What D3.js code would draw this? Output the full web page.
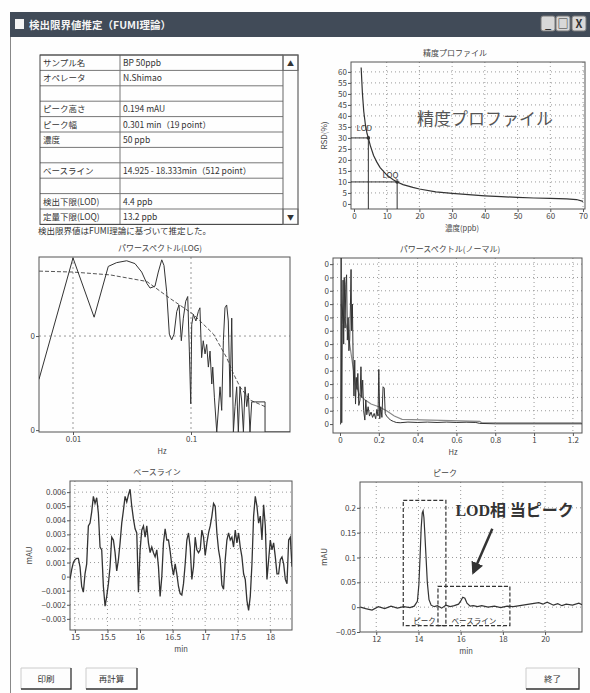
<!DOCTYPE html>
<html>
<head>
<meta charset="utf-8">
<script src="https://d3js.org/d3.v7.min.js"></script>
<style>
body { margin: 0; background: #fff; }
</style>
</head>
<body>
<div id="visu"></div>
<script>

// ---- tableau de résultats ----
var tableLabels = ["サンプル名", "オペレータ", "", "ピーク高さ", "ピーク幅", "濃度", "", "ベースライン", "", "検出下限(LOD)", "定量下限(LOQ)"];
var tableValues = ["BP 50ppb", "N.Shimao", "", "0.194 mAU", "0.301 min（19 point）", "50 ppb", "", "14.925 - 18.333min（512 point）", "", "4.4 ppb", "13.2 ppb"];

// ---- profil de précision (RSD vs concentration) ----
var precConc = [2.2, 2.6, 3, 3.5, 4, 4.4, 5, 6, 7, 8, 10, 12, 13.2, 15, 18, 20, 25, 30, 35, 40, 45, 50, 55, 60, 65, 68, 70];
var precRsd  = [62, 50, 42, 36, 32, 30, 26.5, 22, 19, 16.5, 13.2, 11, 10, 8.8, 7.5, 6.8, 5.5, 4.8, 4.2, 3.7, 3.3, 3.0, 2.7, 2.5, 2.3, 2.0, 1.2];
var precTicksX = [0, 10, 20, 30, 40, 50, 60, 70];
var precTicksY = [0, 5, 10, 15, 20, 25, 30, 35, 40, 45, 50, 55, 60];
var lodConc = 4.4, lodRsd = 30;
var loqConc = 13.2, loqRsd = 10;

// ---- spectre de puissance (LOG) : fréquence, log10 de la puissance ----
var psLogFreq = [0.00515, 0.0100, 0.0151, 0.0199, 0.0234, 0.0285, 0.0335, 0.0382, 0.0422, 0.045, 0.0495, 0.0528, 0.0565, 0.059, 0.0622, 0.0655, 0.0686, 0.0718, 0.0757, 0.0791, 0.0828, 0.0861, 0.0902, 0.0938, 0.0968, 0.0995, 0.1014, 0.1047, 0.110, 0.1153, 0.119, 0.123, 0.127, 0.1315, 0.1358, 0.1403, 0.1449, 0.150, 0.1528, 0.1578, 0.1652, 0.1762, 0.182, 0.188, 0.194, 0.2005, 0.207, 0.2143, 0.2213, 0.2286, 0.236, 0.2438, 0.2518, 0.260, 0.2685, 0.278, 0.287, 0.2965, 0.306, 0.316, 0.327, 0.424, 0.424, 0.69];
var psLogLevel = [-8.46, -7.17, -7.80, -7.26, -7.22, -7.20, -7.23, -7.32, -7.44, -7.49, -7.47, -7.32, -7.19, -7.25, -7.53, -7.98, -8.04, -7.98, -7.74, -7.67, -8.05, -7.81, -7.63, -7.58, -8.16, -8.72, -7.88, -7.77, -7.84, -7.74, -7.70, -8.23, -8.05, -8.19, -8.09, -8.33, -8.16, -8.51, -8.33, -8.65, -9.5, -8.54, -8.79, -8.05, -7.70, -7.67, -7.84, -8.65, -7.81, -9.5, -8.75, -8.54, -9.5, -8.54, -8.68, -9.5, -8.54, -8.75, -8.61, -9.5, -8.70, -8.70, -9.5, -9.5];
var psFitFreq  = [0.00515, 0.01, 0.0206, 0.0422, 0.0664, 0.1047, 0.155, 0.2005, 0.2286, 0.26, 0.316, 0.424];
var psFitLevel = [-7.31, -7.32, -7.35, -7.42, -7.60, -7.77, -7.98, -8.23, -8.40, -8.54, -8.68, -8.75];
var psLogTicksX = [0.01, 0.1];
var psLogTicksY = [1e-9, 1e-8];

// ---- spectre de puissance (normal) : unités 1e-9 ----
var psNormFreq  = [0, 0.0035, 0.006, 0.009, 0.012, 0.016, 0.019, 0.022, 0.026, 0.03, 0.034, 0.038, 0.042, 0.046, 0.05, 0.054, 0.057, 0.06, 0.064, 0.068, 0.072, 0.076, 0.08, 0.084, 0.088, 0.092, 0.097, 0.103, 0.108, 0.112, 0.117, 0.122, 0.128, 0.133, 0.138, 0.145, 0.152, 0.16, 0.168, 0.176, 0.184, 0.19, 0.196, 0.2, 0.205, 0.21, 0.216, 0.222, 0.228, 0.233, 0.24, 0.25, 0.26, 0.275, 0.29, 0.31, 0.35, 0.4, 0.45, 0.5, 0.55, 0.6, 0.65, 0.7, 0.72, 0.8, 1.0, 1.25];
var psNormPower = [0, 0, 12.5, 0.1, 7.5, 10.8, 6.0, 11.0, 7.2, 10.5, 11.2, 6.3, 8.0, 5.5, 6.3, 9.0, 11.6, 7.0, 9.0, 4.5, 2.1, 4.8, 1.5, 3.5, 2.6, 3.8, 1.4, 1.8, 4.3, 2.0, 3.3, 1.0, 0.3, 1.8, 0.7, 1.3, 0.6, 0.9, 0.5, 0.8, 0.4, 1.1, 0.6, 4.1, 0.4, 1.3, 0.5, 2.8, 2.7, 0.8, 0.6, 0.45, 0.3, 0.2, 0.12, 0.1, 0.15, 0.12, 0.15, 0.12, 0.15, 0.12, 0.14, 0.12, 0.05, 0.02, 0.02, 0.02];
var psSmoothFreq  = [0.005, 0.02, 0.04, 0.06, 0.08, 0.1, 0.13, 0.16, 0.2, 0.24, 0.28, 0.32, 0.72, 0.73, 1.25];
var psSmoothPower = [9, 8, 7, 5, 3, 2.2, 1.8, 1.5, 1.3, 1.0, 0.6, 0.35, 0.2, 0.1, 0.1];
var psNormTicksX = [0, 0.2, 0.4, 0.6, 0.8, 1, 1.2];
var psNormTicksY = [0, 1, 2, 3, 4, 5, 6, 7, 8, 9, 10, 11, 12];

// ---- ligne de base (mAU), 14.925 - 18.333 min ----
var baselineStart = 14.925, baselineEnd = 18.333;
var baselineValues = [-0.0002, 0.0005, 0.0010, 0.0012, 0.0013, 0.0013, 0.0007, -0.0007, -0.0011, 0.0002,
  0.0009, 0.0036, 0.0038, 0.0046, 0.0057, 0.0052, 0.0056, 0.0045, 0.0021, 0.0019,
  -0.0007, -0.0021, -0.0014, -0.0005, 0.0007, 0.0028, 0.0026, 0.0017, 0.0004, 0.0012,
  0.0024, 0.0038, 0.0047, 0.0057, 0.0053, 0.0058, 0.0062, 0.0050, 0.0041, 0.0034,
  0.0031, -0.0011, 0.0019, 0.0033, 0.0036, 0.0028, 0.0036, 0.0024, 0.0017, 0.0021,
  0.0017, 0.0014, 0.0019, 0.0007, -0.0014, 0.0000, 0.0024, 0.0034, 0.0026, 0.0026,
  0.0018, 0.0008, 0.0001, 0.0009, 0.0002, -0.0007, -0.0012, -0.0013, -0.0005, 0.0009,
  0.0026, 0.0031, 0.0021, -0.0002, 0.0007, 0.0028, 0.0019, 0.0017, 0.0019, 0.0033,
  0.0028, 0.0015, 0.0024, 0.0031, 0.0036, 0.0043, 0.0052, 0.0050, 0.0031, 0.0019,
  0.0012, -0.0006, -0.0009, 0.0012, 0.0026, 0.0031, 0.0026, 0.0028, 0.0021, 0.0033,
  0.0024, 0.0031, 0.0021, 0.0014, 0.0002, -0.0002, -0.0017, -0.0024, -0.0014, 0.0009,
  0.0043, 0.0057, 0.0050, 0.0038, 0.0043, 0.0026, 0.0051, 0.0036, -0.0002, 0.0012,
  0.0026, 0.0019, 0.0024, 0.0014, 0.0002, 0.0002, 0.0012, 0.0014, 0.0009, -0.0002,
  -0.0005, 0.0026, 0.0028, 0.0007];
var baselineTicksX = [15, 15.5, 16, 16.5, 17, 17.5, 18];
var baselineTicksY = [-0.003, -0.002, -0.001, 0, 0.001, 0.002, 0.003, 0.004, 0.005, 0.006];

// ---- chromatogramme (pic) ----
var peakTime  = [11.25, 11.5, 11.8, 12.1, 12.4, 12.7, 13.0, 13.3, 13.6, 13.8, 13.95, 14.02, 14.08, 14.13, 14.18, 14.22, 14.26, 14.3, 14.36, 14.42, 14.5, 14.6, 14.75, 14.9, 15.1, 15.3, 15.5, 15.7, 15.9, 16.0, 16.1, 16.2, 16.3, 16.45, 16.6, 16.8, 17.0, 17.3, 17.6, 17.9, 18.2, 18.5, 18.8, 19.1, 19.4, 19.7, 19.9, 20.1, 20.4, 20.6, 20.8, 21.0, 21.3, 21.6, 21.75];
var peakValue = [0.000, -0.003, -0.006, 0.001, -0.003, 0.002, -0.002, 0.001, -0.001, 0.002, 0.012, 0.045, 0.105, 0.16, 0.19, 0.194, 0.18, 0.15, 0.1, 0.05, 0.015, 0.004, 0.001, 0.003, -0.002, 0.004, 0.001, 0.003, 0.006, 0.012, 0.02, 0.018, 0.008, 0.002, 0.003, 0.001, 0.003, 0.0, 0.002, -0.001, 0.002, 0.001, 0.003, 0.005, 0.007, 0.009, 0.006, 0.01, 0.004, 0.007, 0.003, 0.006, 0.004, 0.008, 0.005];
var peakTicksX = [12, 14, 16, 18, 20];
var peakTicksY = [-0.05, 0, 0.05, 0.1, 0.15, 0.2];
var peakBox = [13.28, 15.3, -0.037, 0.215];
var baselineBox = [14.925, 18.333, -0.037, 0.042];
var arrowFrom = [17.5, 0.158], arrowTo = [16.6, 0.07];

// ---- mise en page ----
var largeur = 590, hauteur = 693;
var police = "'Noto Sans CJK JP', 'DejaVu Sans', sans-serif";

var svg = d3.select("#visu").append("svg")
  .attr("width", largeur)
  .attr("height", hauteur)
  .style("font-family", police);

svg.append("rect").attr("width", largeur).attr("height", hauteur).attr("fill", "#fefefe");

// barre de titre
svg.append("rect").attr("x", 10).attr("y", 12).attr("width", 580).attr("height", 25).attr("fill", "#414b58");
svg.append("rect").attr("x", 15).attr("y", 19).attr("width", 9).attr("height", 10).attr("fill", "#f4f4f4");
svg.append("text").attr("x", 29).attr("y", 29).attr("fill", "#f4f4f4")
  .attr("font-size", 10.5).attr("font-weight", "bold").text("検出限界値推定（FUMI理論）");
[541, 556, 572].forEach(function(bx, i) {
  svg.append("rect").attr("x", bx).attr("y", 16).attr("width", 14).attr("height", 15)
    .attr("fill", "#d8d8d8").attr("stroke", "#777").attr("rx", 2);
  var sym = ["_", "□", "X"][i];
  svg.append("text").attr("x", bx + 7).attr("y", 28).attr("text-anchor", "middle")
    .attr("font-size", 11).attr("font-weight", "bold").attr("fill", "#333").text(sym);
});
// bord gauche de la fenêtre
svg.append("line").attr("x1", 10.5).attr("x2", 10.5).attr("y1", 37).attr("y2", hauteur).attr("stroke", "#888");

// tableau
var tx0 = 40, tx1 = 120, tx2 = 283, tx3 = 298, ty0 = 55, rowH = 15.4;
var nbRows = tableLabels.length;
var tab = svg.append("g").attr("font-size", 8.5).attr("fill", "#333");
tab.selectAll("line.row").data(d3.range(nbRows + 1)).enter().append("line")
  .attr("x1", tx0).attr("x2", tx2)
  .attr("y1", function(i) { return ty0 + i * rowH; })
  .attr("y2", function(i) { return ty0 + i * rowH; })
  .attr("stroke", "#777");
tab.append("line").attr("x1", tx1).attr("x2", tx1).attr("y1", ty0).attr("y2", ty0 + nbRows * rowH).attr("stroke", "#777");
tab.append("rect").attr("x", tx0).attr("y", ty0).attr("width", tx3 - tx0).attr("height", nbRows * rowH)
  .attr("fill", "none").attr("stroke", "#444");
tab.append("line").attr("x1", tx2).attr("x2", tx2).attr("y1", ty0).attr("y2", ty0 + nbRows * rowH).attr("stroke", "#666");
tab.append("rect").attr("x", tx2).attr("y", ty0).attr("width", tx3 - tx2).attr("height", rowH).attr("fill", "none").attr("stroke", "#666");
tab.append("rect").attr("x", tx2).attr("y", ty0 + (nbRows - 1) * rowH).attr("width", tx3 - tx2).attr("height", rowH).attr("fill", "none").attr("stroke", "#666");
tab.append("text").attr("x", (tx2 + tx3) / 2).attr("y", ty0 + rowH - 4).attr("text-anchor", "middle").attr("font-size", 7).text("▲");
tab.append("text").attr("x", (tx2 + tx3) / 2).attr("y", ty0 + nbRows * rowH - 4).attr("text-anchor", "middle").attr("font-size", 7).text("▼");
tab.selectAll("text.lab").data(tableLabels).enter().append("text")
  .attr("x", tx0 + 3).attr("y", function(d, i) { return ty0 + i * rowH + 11; })
  .text(function(d) { return d; });
tab.selectAll("text.val").data(tableValues).enter().append("text")
  .attr("x", tx1 + 3).attr("y", function(d, i) { return ty0 + i * rowH + 11; })
  .text(function(d) { return d; });
svg.append("text").attr("x", 38).attr("y", ty0 + nbRows * rowH + 10).attr("font-size", 8.5).attr("fill", "#333")
  .text("検出限界値はFUMI理論に基づいて推定した。");

// une fonction qui trace un cadre avec grille et axes
var nbClip = 0;
function panneau(p) {
  var g = svg.append("g");
  var id = "clip" + (nbClip++);
  g.append("clipPath").attr("id", id).append("rect")
    .attr("x", p.x0).attr("y", p.y0).attr("width", p.x1 - p.x0).attr("height", p.y1 - p.y0);

  g.selectAll("line.gx").data(p.gridX || []).enter().append("line")
    .attr("x1", function(d) { return p.sx(d); }).attr("x2", function(d) { return p.sx(d); })
    .attr("y1", p.y0).attr("y2", p.y1)
    .attr("stroke", "#999").attr("stroke-dasharray", p.dash || "1,3");
  g.selectAll("line.gy").data(p.gridY || []).enter().append("line")
    .attr("y1", function(d) { return p.sy(d); }).attr("y2", function(d) { return p.sy(d); })
    .attr("x1", p.x0).attr("x2", p.x1)
    .attr("stroke", "#999").attr("stroke-dasharray", p.dash || "1,3");

  var ax = g.append("g").attr("transform", "translate(0," + p.y1 + ")")
    .call(d3.axisBottom(p.sx).tickValues(p.tx).tickFormat(p.fx).tickSize(3).tickPadding(1).tickSizeOuter(0));
  var ay = g.append("g").attr("transform", "translate(" + p.x0 + ",0)")
    .call(d3.axisLeft(p.sy).tickValues(p.ty).tickFormat(p.fy).tickSize(3).tickPadding(1).tickSizeOuter(0));
  [ax, ay].forEach(function(a) {
    a.select(".domain").remove();
    a.selectAll("line").attr("stroke", "#555");
    a.selectAll("text").attr("font-size", 8).attr("fill", "#444").style("font-family", police);
  });

  g.append("rect").attr("x", p.x0).attr("y", p.y0).attr("width", p.x1 - p.x0).attr("height", p.y1 - p.y0)
    .attr("fill", "none").attr("stroke", "#555");

  g.append("text").attr("x", p.titleX).attr("y", p.y0 - 6).attr("text-anchor", "middle")
    .attr("font-size", 8).attr("fill", "#444").text(p.titre);
  if (p.labelX)
    g.append("text").attr("x", p.labelXpos).attr("y", p.y1 + 22).attr("text-anchor", "middle")
      .attr("font-size", 7.5).attr("fill", "#444").text(p.labelX);
  if (p.labelY)
    g.append("text").attr("transform", "translate(" + p.labelYpos + "," + (p.y0 + p.y1) / 2 + ") rotate(-90)")
      .attr("text-anchor", "middle").attr("font-size", 8).attr("fill", "#444").text(p.labelY);

  return g.append("g").attr("clip-path", "url(#" + id + ")");
}

var fmtNum = d3.format("");
var fmtZero = function() { return "0"; };

// ---- 1. profil de précision ----
var pp = { x0: 351, x1: 585, y0: 62, y1: 209 };
pp.sx = d3.scaleLinear().domain([-0.9, 70.6]).range([pp.x0, pp.x1]);
pp.sy = d3.scaleLinear().domain([-2.3, 64.5]).range([pp.y1, pp.y0]);
Object.assign(pp, { tx: precTicksX, ty: precTicksY, fx: fmtNum, fy: fmtNum, gridX: precTicksX.slice(1), gridY: precTicksY.slice(1),
  titre: "精度プロファイル", titleX: 455, labelX: "濃度(ppb)", labelXpos: 462, labelY: "RSD(%)", labelYpos: 327 });
var gp = panneau(pp);
var lignePrec = d3.line().x(function(d, i) { return pp.sx(precConc[i]); }).y(function(d) { return pp.sy(d); });
gp.append("path").attr("d", lignePrec(precRsd)).attr("fill", "none").attr("stroke", "#333").attr("stroke-width", 1.2);
[[lodConc, lodRsd, "LOD", 0.8, 33], [loqConc, loqRsd, "LOQ", 8.7, 12]].forEach(function(m) {
  gp.append("path")
    .attr("d", "M" + pp.sx(pp.sx.domain()[0]) + "," + pp.sy(m[1]) + "H" + pp.sx(m[0]) + "V" + pp.sy(pp.sy.domain()[0]))
    .attr("fill", "none").attr("stroke", "#333");
  gp.append("circle").attr("cx", pp.sx(m[0])).attr("cy", pp.sy(m[1])).attr("r", 1.8).attr("fill", "#333");
  gp.append("text").attr("x", pp.sx(m[3])).attr("y", pp.sy(m[4])).attr("font-size", 8).attr("fill", "#333").text(m[2]);
});
gp.append("text").attr("x", pp.sx(19.3)).attr("y", pp.sy(36)).attr("font-size", 17).attr("fill", "#555").text("精度プロファイル");

// ---- 2. spectre de puissance (LOG) ----
var pl = { x0: 39, x1: 290, y0: 257, y1: 432 };
pl.sx = d3.scaleLog().domain([0.00515, 0.69]).range([pl.x0, pl.x1]);
pl.sy = d3.scaleLog().domain([Math.pow(10, -9.02), Math.pow(10, -7.16)]).range([pl.y1, pl.y0]).clamp(true);
Object.assign(pl, { tx: psLogTicksX, ty: psLogTicksY, fx: fmtNum, fy: fmtZero, gridX: psLogTicksX, gridY: [1e-8], dash: "2,3",
  titre: "パワースペクトル(LOG)", titleX: 160, labelX: "Hz", labelXpos: 162 });
var gl = panneau(pl);
var ligneLog = function(fr) {
  return d3.line().x(function(d, i) { return pl.sx(fr[i]); }).y(function(d) { return pl.sy(Math.pow(10, d)); });
};
gl.append("path").attr("d", ligneLog(psFitFreq)(psFitLevel)).attr("fill", "none")
  .attr("stroke", "#555").attr("stroke-dasharray", "4,2");
gl.append("path").attr("d", ligneLog(psLogFreq)(psLogLevel)).attr("fill", "none").attr("stroke", "#333");

// ---- 3. spectre de puissance (normal) ----
var pn = { x0: 333, x1: 582, y0: 258, y1: 433 };
pn.sx = d3.scaleLinear().domain([-0.036, 1.247]).range([pn.x0, pn.x1]);
pn.sy = d3.scaleLinear().domain([-0.67, 12.46]).range([pn.y1, pn.y0]);
Object.assign(pn, { tx: psNormTicksX, ty: psNormTicksY, fx: fmtNum, fy: fmtZero, gridX: psNormTicksX.slice(1), gridY: psNormTicksY.slice(1),
  titre: "パワースペクトル(ノーマル)", titleX: 450, labelX: "Hz", labelXpos: 453 });
var gn = panneau(pn);
var ligneNorm = function(fr) {
  return d3.line().x(function(d, i) { return pn.sx(fr[i]); }).y(function(d) { return pn.sy(d); });
};
gn.append("path").attr("d", ligneNorm(psSmoothFreq)(psSmoothPower)).attr("fill", "none").attr("stroke", "#888").attr("stroke-width", 1.2);
gn.append("path").attr("d", ligneNorm(psNormFreq)(psNormPower)).attr("fill", "none").attr("stroke", "#333");

// ---- 4. ligne de base ----
var pb = { x0: 70, x1: 292, y0: 481, y1: 630 };
pb.sx = d3.scaleLinear().domain([baselineStart, baselineEnd]).range([pb.x0, pb.x1]);
pb.sy = d3.scaleLinear().domain([-0.00379, 0.00679]).range([pb.y1, pb.y0]);
Object.assign(pb, { tx: baselineTicksX, ty: baselineTicksY, fx: fmtNum, fy: fmtNum, gridX: baselineTicksX, gridY: baselineTicksY,
  titre: "ベースライン", titleX: 157, labelX: "min", labelXpos: 181, labelY: "mAU", labelYpos: 32 });
var gb = panneau(pb);
var pasBase = (baselineEnd - baselineStart) / (baselineValues.length - 1);
var ligneBase = d3.line().x(function(d, i) { return pb.sx(baselineStart + i * pasBase); }).y(function(d) { return pb.sy(d); });
gb.append("path").attr("d", ligneBase(baselineValues)).attr("fill", "none").attr("stroke", "#333").attr("stroke-width", 1.3);

// ---- 5. pic ----
var pk = { x0: 360, x1: 582, y0: 482, y1: 632 };
pk.sx = d3.scaleLinear().domain([11.23, 21.75]).range([pk.x0, pk.x1]);
pk.sy = d3.scaleLinear().domain([-0.05, 0.252]).range([pk.y1, pk.y0]);
Object.assign(pk, { tx: peakTicksX, ty: peakTicksY, fx: fmtNum, fy: fmtNum, gridX: peakTicksX, gridY: peakTicksY.slice(1),
  titre: "ピーク", titleX: 445, labelX: "min", labelXpos: 466, labelY: "mAU", labelYpos: 327 });
var gk = panneau(pk);
var lignePic = d3.line().x(function(d, i) { return pk.sx(peakTime[i]); }).y(function(d) { return pk.sy(d); });
gk.append("path").attr("d", lignePic(peakValue)).attr("fill", "none").attr("stroke", "#333").attr("stroke-width", 1.2);
[[peakBox, "ピーク"], [baselineBox, "ベースライン"]].forEach(function(b) {
  var r = b[0];
  gk.append("rect").attr("x", pk.sx(r[0])).attr("y", pk.sy(r[3]))
    .attr("width", pk.sx(r[1]) - pk.sx(r[0])).attr("height", pk.sy(r[2]) - pk.sy(r[3]))
    .attr("fill", "none").attr("stroke", "#333").attr("stroke-width", 1.2).attr("stroke-dasharray", "4,2");
  gk.append("text").attr("x", (pk.sx(r[0]) + pk.sx(r[1])) / 2).attr("y", pk.sy(r[2]) - 2)
    .attr("text-anchor", "middle").attr("font-size", 7.5).attr("fill", "#333").text(b[1]);
});
svg.append("defs").append("marker").attr("id", "fleche").attr("viewBox", "0 0 10 10")
  .attr("refX", 8).attr("refY", 5).attr("markerWidth", 5).attr("markerHeight", 5).attr("orient", "auto")
  .append("path").attr("d", "M0,0L10,5L0,10z").attr("fill", "#333");
svg.append("line")
  .attr("x1", pk.sx(arrowFrom[0])).attr("y1", pk.sy(arrowFrom[1]))
  .attr("x2", pk.sx(arrowTo[0])).attr("y2", pk.sy(arrowTo[1]))
  .attr("stroke", "#333").attr("stroke-width", 2.5).attr("marker-end", "url(#fleche)");
var annot = svg.append("text").attr("x", pk.sx(15.75)).attr("y", pk.sy(0.183))
  .attr("font-size", 16).attr("font-weight", "bold").attr("fill", "#333");
annot.append("tspan").style("font-family", "'Liberation Serif', 'DejaVu Serif', serif").text("LOD");
annot.append("tspan").text("相 当ピーク");

// ---- boutons ----
[[21, 71, "印刷"], [86, 137, "再計算"], [526, 579, "終了"]].forEach(function(b) {
  var gB = svg.append("g");
  gB.append("rect").attr("x", b[0]).attr("y", 668).attr("width", b[1] - b[0]).attr("height", 21).attr("fill", "#fdfdfd");
  gB.append("path").attr("d", "M" + b[0] + ",689V668H" + b[1]).attr("fill", "none").attr("stroke", "#ccc");
  gB.append("path").attr("d", "M" + b[1] + ",668V689H" + b[0]).attr("fill", "none").attr("stroke", "#333").attr("stroke-width", 1.3);
  gB.append("text").attr("x", (b[0] + b[1]) / 2).attr("y", 682).attr("text-anchor", "middle")
    .attr("font-size", 8.5).attr("fill", "#333").text(b[2]);
});

</script>
</body>
</html>
